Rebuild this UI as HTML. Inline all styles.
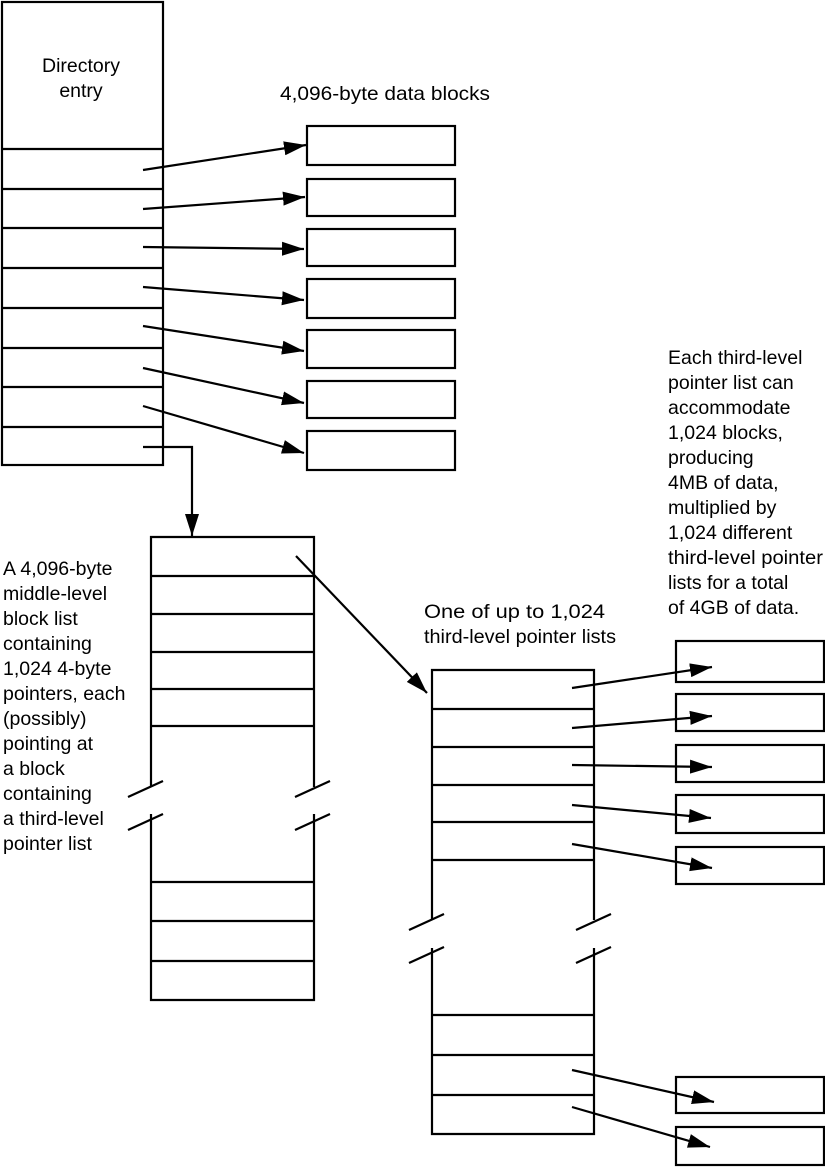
<!DOCTYPE html>
<html><head><meta charset="utf-8"><style>
html,body{margin:0;padding:0;background:#fff;}
svg{display:block;}
text{font-family:"Liberation Sans",sans-serif;font-size:19.5px;fill:#000;}
</style></head><body>
<svg width="825" height="1167" viewBox="0 0 825 1167" xmlns="http://www.w3.org/2000/svg">
<defs>
<marker id="a" markerUnits="userSpaceOnUse" markerWidth="24" markerHeight="16" refX="22" refY="8" orient="auto">
<path d="M0,1 L22,8 L0,15 Z" fill="#000"/></marker>
</defs>
<g fill="none" stroke="#000" stroke-width="2.2">
<rect x="2" y="2" width="161" height="463"/>
<path d="M2 149H163M2 189H163M2 228H163M2 268H163M2 308H163M2 348H163M2 387H163M2 427H163"/>
<rect x="307" y="126" width="148" height="39"/>
<rect x="307" y="179" width="148" height="37"/>
<rect x="307" y="229" width="148" height="37"/>
<rect x="307" y="279" width="148" height="39"/>
<rect x="307" y="330" width="148" height="38"/>
<rect x="307" y="381" width="148" height="37"/>
<rect x="307" y="431" width="148" height="39"/>
<path marker-end="url(#a)" d="M143 170L306 145"/>
<path marker-end="url(#a)" d="M143 209L305 197"/>
<path marker-end="url(#a)" d="M143 247L304 249"/>
<path marker-end="url(#a)" d="M143 287L304 300"/>
<path marker-end="url(#a)" d="M143 326L304 351"/>
<path marker-end="url(#a)" d="M143 368L304 403"/>
<path marker-end="url(#a)" d="M143 406L304 453"/>
<path marker-end="url(#a)" d="M143 447H192V536"/>
<path d="M151 787V537H314V787M151 814V1000H314V814"/>
<path d="M151 576H314M151 614H314M151 652H314M151 689H314M151 726H314M151 882H314M151 921H314M151 961H314"/>
<path d="M128 797L163 781M128 830L163 814M295 797L330 781M295 830L330 814"/>
<path marker-end="url(#a)" d="M296 556L427 693"/>
<path d="M432 920V670H594V920M432 948V1134H594V948"/>
<path d="M432 709H594M432 747H594M432 785H594M432 822H594M432 860H594M432 1015H594M432 1055H594M432 1095H594"/>
<path d="M409 930L444 914M409 963L444 947M576 930L611 914M576 963L611 947"/>
<rect x="676" y="641" width="148" height="41"/>
<rect x="676" y="694" width="148" height="37"/>
<rect x="676" y="745" width="148" height="37"/>
<rect x="676" y="795" width="148" height="38"/>
<rect x="676" y="847" width="148" height="37"/>
<rect x="676" y="1077" width="148" height="36"/>
<rect x="676" y="1127" width="148" height="38"/>
<path marker-end="url(#a)" d="M572 688L712 667"/>
<path marker-end="url(#a)" d="M572 728L712 716"/>
<path marker-end="url(#a)" d="M572 765L712 767"/>
<path marker-end="url(#a)" d="M572 805L711 818"/>
<path marker-end="url(#a)" d="M572 844L712 868"/>
<path marker-end="url(#a)" d="M572 1070L714 1102"/>
<path marker-end="url(#a)" d="M572 1107L710 1147"/>
</g>
<text x="81" y="72" text-anchor="middle">Directory</text>
<text x="81" y="97" text-anchor="middle">entry</text>
<text x="280" y="100" textLength="210" lengthAdjust="spacingAndGlyphs">4,096-byte data blocks</text>
<text x="424" y="618" textLength="181" lengthAdjust="spacingAndGlyphs">One of up to 1,024</text>
<text x="424" y="643" textLength="192" lengthAdjust="spacingAndGlyphs">third-level pointer lists</text>
<g>
<text x="3" y="575">A 4,096-byte</text>
<text x="3" y="600">middle-level</text>
<text x="3" y="625">block list</text>
<text x="3" y="650">containing</text>
<text x="3" y="675">1,024 4-byte</text>
<text x="3" y="700">pointers, each</text>
<text x="3" y="725">(possibly)</text>
<text x="3" y="750">pointing at</text>
<text x="3" y="775">a block</text>
<text x="3" y="800">containing</text>
<text x="3" y="825">a third-level</text>
<text x="3" y="850">pointer list</text>
</g>
<g>
<text x="668" y="364">Each third-level</text>
<text x="668" y="389">pointer list can</text>
<text x="668" y="414">accommodate</text>
<text x="668" y="439">1,024 blocks,</text>
<text x="668" y="464">producing</text>
<text x="668" y="489">4MB of data,</text>
<text x="668" y="514">multiplied by</text>
<text x="668" y="539">1,024 different</text>
<text x="668" y="564" textLength="155" lengthAdjust="spacingAndGlyphs">third-level pointer</text>
<text x="668" y="589">lists for a total</text>
<text x="668" y="614">of 4GB of data.</text>
</g>
</svg>
</body></html>
